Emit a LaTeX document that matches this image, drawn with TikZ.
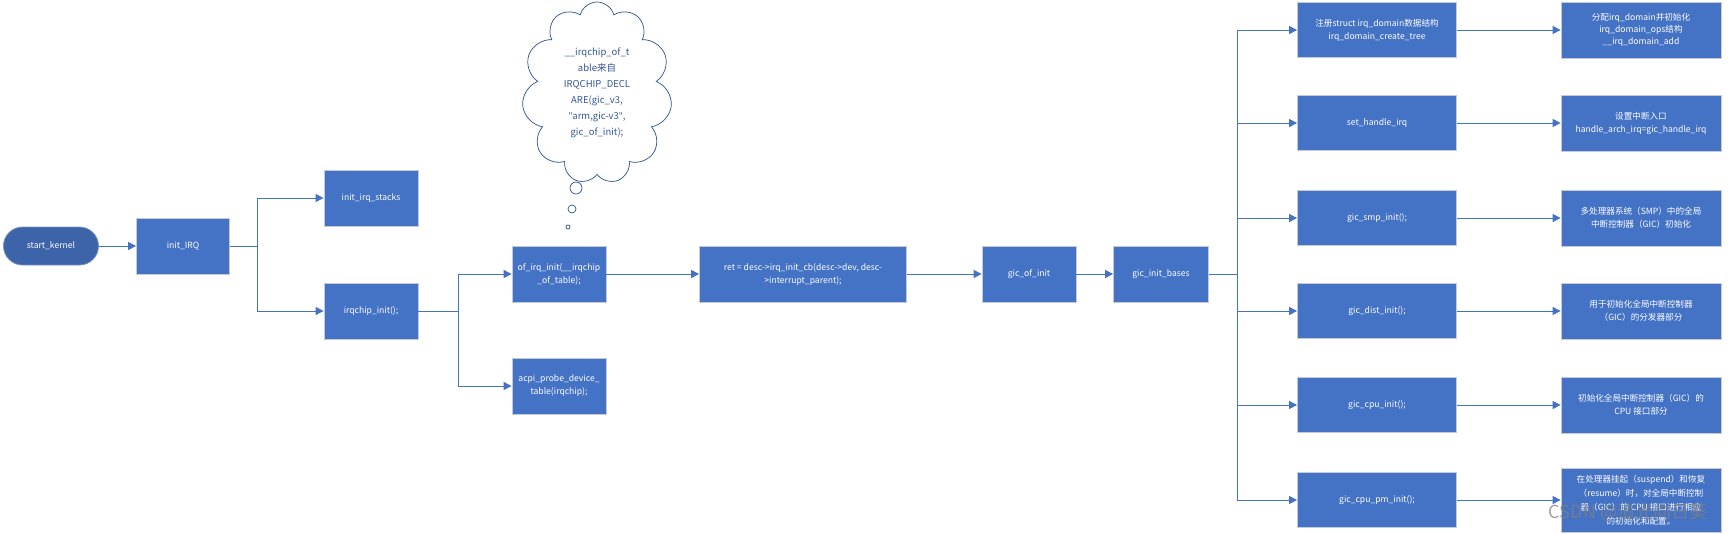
\documentclass[tikz,border=0pt]{standalone}
\usepackage{fontspec}
\setmainfont{Noto Sans CJK SC}
\newfontfamily\latinfont{Noto Sans}
\usetikzlibrary{arrows.meta,shapes.symbols}
\definecolor{boxblue}{HTML}{4472C4}
\definecolor{darkblue}{HTML}{3D63A8}
\definecolor{edgegray}{HTML}{C5CBD6}
\definecolor{cloudline}{HTML}{2F528F}
\definecolor{cloudtext}{HTML}{34589A}
\begin{document}
\begin{tikzpicture}[x=1pt,y=-1pt,
  box/.style={rectangle, draw=edgegray, fill=boxblue, text=white, line width=0.8pt,
    minimum width=#1, minimum height=56, align=center, inner sep=1pt,
    font=\fontsize{8.6}{13}\selectfont},
  box/.default=94,
  arr/.style={-{Triangle[length=8pt,width=8pt]}, draw=boxblue, line width=1pt},
  lin/.style={draw=boxblue, line width=1pt},
  bubble/.style={circle, draw=cloudline, fill=white, line width=0.7pt, inner sep=0pt, minimum size=#1}
]
\useasboundingbox (0,0) rectangle (1729,533);
\node[box=95, fill=darkblue, draw=darkblue!70, rounded corners=19pt, minimum height=38] (start) at (51,246) {start\_kernel};
\node[box=93] (initirq) at (183,246) {init\_IRQ};
\node[box] (stacks) at (371,198) {init\_irq\_stacks};
\node[box] (irqchip) at (371,311) {irqchip\_init();};
\node[box] (ofirq) at (559,274) {of\_irq\_init(\_\_irqchip\\\_of\_table);};
\node[box] (acpi) at (559,386) {acpi\_probe\_device\_\\table(irqchip);};
\node[box=207] (retcb) at (803,274) {ret = desc->irq\_init\_cb(desc->dev, desc-\\>interrupt\_parent);};
\node[box] (gicof) at (1029,274) {gic\_of\_init};
\node[box=95] (bases) at (1161,274) {gic\_init\_bases};
\node[cloud, cloud puffs=11, cloud ignores aspect, draw=cloudline, fill=white, line width=0.7pt,
  minimum width=150, minimum height=182, inner sep=0pt, align=center, text=cloudtext,
  font=\fontsize{9.5}{16}\selectfont] (note) at (597,93)
  {\_\_irqchip\_of\_t\\able来自\\IRQCHIP\_DECL\\ARE(gic\_v3,\\{\latinfont"}arm,gic-v3{\latinfont"},\\gic\_of\_init);};
\node[bubble=12] (bub1) at (576,188) {};
\node[bubble=8] (bub2) at (572,209) {};
\node[bubble=4] (bub3) at (568,227) {};

\node[box=159, minimum height=55] (r1) at (1377,30) {注册struct irq\_domain数据结构\\irq\_domain\_create\_tree};
\node[box=159, minimum height=55] (r2) at (1377,123) {set\_handle\_irq};
\node[box=159, minimum height=55] (r3) at (1377,218) {gic\_smp\_init();};
\node[box=159, minimum height=55] (r4) at (1377,311) {gic\_dist\_init();};
\node[box=159, minimum height=55] (r5) at (1377,405) {gic\_cpu\_init();};
\node[box=159, minimum height=55] (r6) at (1377,500) {gic\_cpu\_pm\_init();};

\node[box=160, font=\fontsize{8.6}{12}\selectfont] (d1) at (1641,30) {分配irq\_domain并初始化\\irq\_domain\_ops结构\\\_\_irq\_domain\_add};
\node[box=160] (d2) at (1641,123) {设置中断入口\\handle\_arch\_irq=gic\_handle\_irq};
\node[box=160] (d3) at (1641,218) {多处理器系统（SMP）中的全局\\中断控制器（GIC）初始化};
\node[box=160] (d4) at (1641,311) {用于初始化全局中断控制器\\（GIC）的分发器部分};
\node[box=160] (d5) at (1641,405) {初始化全局中断控制器（GIC）的\\CPU 接口部分};
\node[box=160, minimum height=64, font=\fontsize{8.6}{14}\selectfont] (d6) at (1641,500) {在处理器挂起（suspend）和恢复\\（resume）时，对全局中断控制\\器（GIC）的 CPU 接口进行相应\\的初始化和配置。};

\coordinate (j1) at (257,246);
\coordinate (j2) at (458,311);
\coordinate (j3) at (1237,274);

\draw[arr] (start) -- (initirq);
\draw[lin] (initirq) -- (j1);
\draw[arr] (j1) |- (stacks);
\draw[arr] (j1) |- (irqchip);
\draw[lin] (irqchip) -- (j2);
\draw[arr] (j2) |- (ofirq);
\draw[arr] (j2) |- (acpi);
\draw[arr] (ofirq) -- (retcb);
\draw[arr] (retcb) -- (gicof);
\draw[arr] (gicof) -- (bases);
\draw[lin] (bases) -- (j3);
\foreach \i in {1,...,6} {
  \draw[arr] (j3) |- (r\i);
  \draw[arr] (r\i) -- (d\i);
}

\node[text=gray, opacity=0.75, font=\fontsize{18}{18}\selectfont, inner sep=0pt] (mark) at (1628,512) {CSDN @追光向日葵};
\end{tikzpicture}
\end{document}
